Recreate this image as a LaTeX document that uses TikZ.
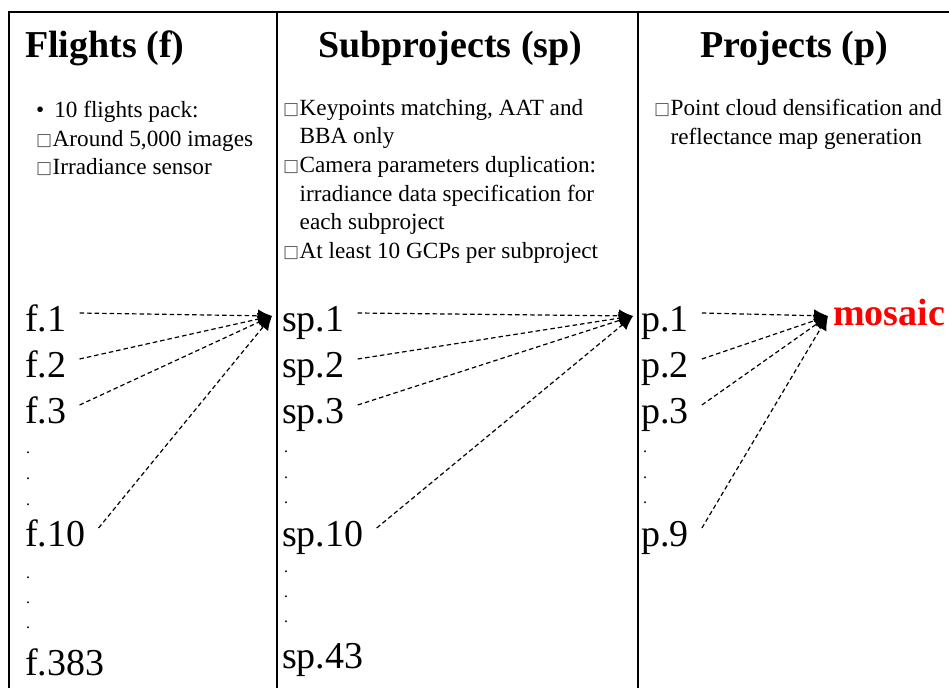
\documentclass[tikz,border=0pt]{standalone}
\usepackage{fontspec}
\setmainfont{Liberation Serif}
\newfontfamily\symfont{DejaVu Sans}
\usetikzlibrary{arrows.meta}

% missing-glyph box as printed in the picture
\newcommand{\sqb}{\makebox[16.5pt][l]{\raisebox{1pt}{\color{black!65}\fontsize{17}{17}\symfont\char"25A1}}}
\newcommand{\ind}{\hspace*{16.5pt}}

\begin{document}
\begin{tikzpicture}[x=1pt,y=-1pt]
\tikzstyle{every node}=[inner sep=0pt]
\tikzstyle{head}=[font=\fontsize{38}{40}\selectfont\bfseries, anchor=base west]
\tikzstyle{note}=[font=\fontsize{23.2}{28.6}\selectfont, align=left, anchor=north west]
\tikzstyle{lbl}=[font=\fontsize{38}{40}\selectfont, anchor=base west, text height=36pt, text depth=0pt, inner xsep=13pt]
\tikzstyle{dot}=[font=\fontsize{16}{16}\selectfont, anchor=base west]
\tikzstyle{flow}=[dash pattern=on 4.5pt off 3pt, line width=1.2pt, -{Latex[length=14pt,width=13pt]}]
\useasboundingbox (0,0) rectangle (949,688);

% frame
\draw[line width=1.3pt] (9,688) -- (9,12) -- (949,12);
\draw[line width=1.3pt] (277,12) -- (277,688);
\draw[line width=1.3pt] (638,12) -- (638,688);

% headings
\node[head] (hf) at (25,57) {Flights (f)};
\node[head] (hsp) at (318,57) {Subprojects (sp)};
\node[head] (hp) at (700,57) {Projects (p)};

% notes
\node[note] (nf) at (36,101) {\textbullet\hspace{10pt}10 flights pack:\\
\sqb Around 5,000 images\\
\sqb Irradiance sensor};
\node[note] (nsp) at (283,99) {\sqb Keypoints matching, AAT and\\
\ind BBA only\\
\sqb Camera parameters duplication:\\
\ind irradiance data specification for\\
\ind each subproject\\
\sqb At least 10 GCPs per subproject};
\node[note] (np) at (654,99) {\sqb Point cloud densification and\\
\ind reflectance map generation};

% flights
\node[lbl] (f1) at (12,331) {f.1};
\node[lbl] (f2) at (12,377) {f.2};
\node[lbl] (f3) at (12,423) {f.3};
\node[lbl] (f10) at (12,546) {f.10};
\node[lbl] (f383) at (12,675) {f.383};
\foreach \y in {453,479,505,578,603,628}
  \node[dot] (fd\y) at (26,\y) {.};

% subprojects
\node[lbl] (sp1) at (269,331) {sp.1};
\node[lbl] (sp2) at (269,377) {sp.2};
\node[lbl] (sp3) at (269,423) {sp.3};
\node[lbl] (sp10) at (269,546) {sp.10};
\node[lbl] (sp43) at (269,668) {sp.43};
\foreach \y in {452,478,503,572,597,622}
  \node[dot] (spd\y) at (284,\y) {.};

% projects
\node[lbl] (p1) at (628,331) {p.1};
\node[lbl] (p2) at (628,377) {p.2};
\node[lbl] (p3) at (628,423) {p.3};
\node[lbl] (p9) at (628,546) {p.9};
\foreach \y in {452,478,503}
  \node[dot] (pd\y) at (643,\y) {.};

\node[font=\fontsize{38}{40}\selectfont\bfseries, text=red, anchor=base west] (mosaic) at (833,325) {mosaic};

\coordinate (fhub) at (272,316);
\coordinate (sphub) at (633,316);
\coordinate (phub) at (828,316);

\foreach \n in {f1,f2,f3,f10}
  \draw[flow] (\n.east) -- (fhub);
\foreach \n in {sp1,sp2,sp3,sp10}
  \draw[flow] (\n.east) -- (sphub);
\foreach \n in {p1,p2,p3,p9}
  \draw[flow] (\n.east) -- (phub);
\end{tikzpicture}
\end{document}
